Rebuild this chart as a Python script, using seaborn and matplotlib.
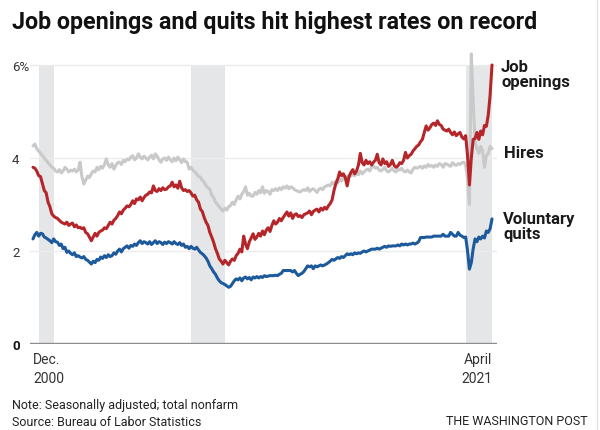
import numpy as np
import pandas as pd
import matplotlib
matplotlib.use("Agg")
import matplotlib.pyplot as plt
from matplotlib.lines import Line2D
import seaborn as sns

# ---------------- data (monthly, Dec 2000 - Apr 2021, percent) ----------------
start_month = "2000-12"

job_openings = [
    3.80,
    3.78, 3.72, 3.62, 3.60, 3.45, 3.30, 3.25, 3.05, 2.95, 2.80, 2.75, 2.72,  # 2001
    2.70, 2.66, 2.62, 2.60, 2.58, 2.62, 2.55, 2.58, 2.60, 2.52, 2.56, 2.50,  # 2002
    2.51, 2.48, 2.50, 2.40, 2.37, 2.30, 2.22, 2.30, 2.38, 2.32, 2.40, 2.43,  # 2003
    2.45, 2.50, 2.48, 2.55, 2.62, 2.58, 2.66, 2.70, 2.76, 2.84, 2.80, 2.88,  # 2004
    2.92, 2.97, 2.95, 3.00, 3.08, 3.02, 3.12, 3.10, 3.16, 3.08, 3.15, 3.20,  # 2005
    3.22, 3.27, 3.25, 3.40, 3.30, 3.28, 3.34, 3.30, 3.36, 3.32, 3.33, 3.38,  # 2006
    3.40, 3.48, 3.38, 3.42, 3.35, 3.50, 3.36, 3.30, 3.32, 3.28, 3.30, 3.25,  # 2007
    3.18, 3.20, 3.10, 3.05, 2.90, 2.85, 2.72, 2.62, 2.55, 2.40, 2.30, 2.19,  # 2008
    2.05, 1.95, 1.83, 1.78, 1.72, 1.80, 1.75, 1.70, 1.78, 1.83, 1.80, 1.90,  # 2009
    1.95, 2.04, 1.98, 2.32, 2.15, 2.05, 2.20, 2.28, 2.37, 2.25, 2.30, 2.38,  # 2010
    2.32, 2.43, 2.35, 2.45, 2.50, 2.42, 2.55, 2.65, 2.58, 2.62, 2.70, 2.65,  # 2011
    2.72, 2.78, 2.84, 2.75, 2.82, 2.70, 2.78, 2.80, 2.74, 2.76, 2.72, 2.78,  # 2012
    2.80, 2.82, 2.86, 2.78, 2.85, 2.88, 2.90, 2.84, 2.92, 2.88, 2.94, 2.90,  # 2013
    2.97, 3.02, 3.10, 3.30, 3.45, 3.55, 3.70, 3.62, 3.66, 3.58, 3.40, 3.60,  # 2014
    3.69, 3.75, 3.66, 3.72, 3.85, 4.10, 3.90, 3.85, 3.95, 3.88, 3.92, 3.85,  # 2015
    3.91, 3.95, 4.08, 3.90, 3.85, 3.98, 3.88, 3.92, 3.82, 3.86, 3.95, 3.84,  # 2016
    3.80, 3.83, 3.90, 3.88, 3.95, 4.12, 4.00, 4.05, 4.08, 4.15, 4.20, 4.25,  # 2017
    4.28, 4.35, 4.40, 4.55, 4.69, 4.60, 4.65, 4.72, 4.75, 4.70, 4.80, 4.72,  # 2018
    4.70, 4.62, 4.60, 4.58, 4.62, 4.55, 4.50, 4.56, 4.48, 4.52, 4.55, 4.45,  # 2019
    4.41, 4.48, 4.05, 3.42, 4.00, 4.40, 4.42, 4.55, 4.40, 4.58, 4.50, 4.70,  # 2020
    4.68, 4.92, 5.35, 6.00,                                                  # 2021
]

hires = [
    4.26,
    4.30, 4.20, 4.15, 4.10, 4.05, 4.00, 3.95, 3.90, 3.85, 3.80, 3.78, 3.72,  # 2001
    3.70, 3.75, 3.68, 3.72, 3.80, 3.76, 3.70, 3.74, 3.72, 3.76, 3.70, 3.74,  # 2002
    3.91, 3.60, 3.44, 3.52, 3.61, 3.58, 3.66, 3.72, 3.70, 3.80, 3.75, 3.82,  # 2003
    3.78, 3.86, 3.98, 3.85, 3.80, 3.88, 3.76, 3.84, 3.90, 3.91, 3.86, 3.95,  # 2004
    3.92, 3.98, 3.96, 4.02, 4.05, 3.96, 4.00, 4.09, 4.02, 3.98, 4.04, 4.00,  # 2005
    3.96, 4.02, 4.06, 3.98, 4.09, 4.04, 3.96, 3.91, 3.98, 4.00, 3.95, 4.02,  # 2006
    3.96, 3.92, 4.00, 3.94, 4.02, 3.96, 3.90, 3.98, 3.92, 3.91, 3.76, 3.80,  # 2007
    3.74, 3.70, 3.66, 3.60, 3.59, 3.52, 3.48, 3.40, 3.36, 3.33, 3.20, 3.15,  # 2008
    3.05, 3.00, 2.95, 2.90, 2.86, 2.92, 2.88, 2.95, 2.98, 3.05, 3.00, 3.10,  # 2009
    3.18, 3.12, 3.22, 3.28, 3.38, 3.20, 3.24, 3.18, 3.18, 3.26, 3.22, 3.30,  # 2010
    3.25, 3.38, 3.24, 3.30, 3.28, 3.22, 3.32, 3.30, 3.34, 3.30, 3.36, 3.32,  # 2011
    3.38, 3.35, 3.40, 3.34, 3.38, 3.36, 3.32, 3.30, 3.28, 3.27, 3.30, 3.32,  # 2012
    3.30, 3.36, 3.28, 3.32, 3.34, 3.30, 3.26, 3.33, 3.35, 3.32, 3.38, 3.40,  # 2013
    3.42, 3.40, 3.48, 3.44, 3.50, 3.46, 3.55, 3.50, 3.58, 3.56, 3.60, 3.62,  # 2014
    3.61, 3.65, 3.62, 3.68, 3.64, 3.72, 3.66, 3.70, 3.74, 3.76, 3.72, 3.80,  # 2015
    3.83, 3.78, 3.80, 3.74, 3.72, 3.76, 3.80, 3.72, 3.70, 3.74, 3.78, 3.72,  # 2016
    3.70, 3.76, 3.74, 3.78, 3.72, 3.70, 3.74, 3.70, 3.68, 3.76, 3.80, 3.78,  # 2017
    3.80, 3.82, 3.78, 3.83, 3.80, 3.86, 3.82, 3.84, 3.80, 3.85, 3.82, 3.88,  # 2018
    3.86, 3.80, 3.88, 3.87, 3.84, 3.82, 3.90, 3.86, 3.84, 3.88, 3.86, 3.90,  # 2019
    3.91, 3.85, 3.55, 3.00, 6.24, 5.20, 4.35, 4.20, 4.10, 4.25, 4.15, 3.80,  # 2020
    4.05, 4.10, 4.25, 4.20,                                                  # 2021
]

voluntary_quits = [
    2.26,
    2.35, 2.40, 2.32, 2.38, 2.37, 2.30, 2.28, 2.25, 2.22, 2.18, 2.26, 2.20,  # 2001
    2.19, 2.12, 2.15, 2.05, 2.08, 1.97, 2.00, 1.95, 1.92, 1.96, 1.88, 1.90,  # 2002
    1.87, 1.85, 1.88, 1.82, 1.80, 1.76, 1.72, 1.78, 1.75, 1.82, 1.80, 1.87,  # 2003
    1.84, 1.90, 1.86, 1.92, 1.88, 1.90, 1.96, 1.93, 2.00, 2.04, 1.98, 2.05,  # 2004
    2.08, 2.11, 2.06, 2.12, 2.10, 2.15, 2.12, 2.18, 2.22, 2.16, 2.20, 2.18,  # 2005
    2.15, 2.20, 2.14, 2.18, 2.22, 2.16, 2.20, 2.18, 2.14, 2.19, 2.16, 2.20,  # 2006
    2.18, 2.15, 2.20, 2.16, 2.14, 2.18, 2.12, 2.15, 2.08, 2.10, 2.05, 2.10,  # 2007
    2.06, 2.04, 2.08, 2.02, 1.97, 1.94, 1.90, 1.85, 1.78, 1.68, 1.62, 1.55,  # 2008
    1.50, 1.42, 1.36, 1.32, 1.30, 1.28, 1.25, 1.22, 1.24, 1.30, 1.36, 1.40,  # 2009
    1.38, 1.42, 1.36, 1.42, 1.44, 1.40, 1.43, 1.38, 1.44, 1.42, 1.45, 1.42,  # 2010
    1.45, 1.43, 1.47, 1.45, 1.46, 1.47, 1.47, 1.47, 1.48, 1.47, 1.50, 1.52,  # 2011
    1.58, 1.58, 1.58, 1.58, 1.58, 1.55, 1.58, 1.52, 1.47, 1.50, 1.52, 1.56,  # 2012
    1.62, 1.68, 1.66, 1.68, 1.62, 1.68, 1.66, 1.68, 1.70, 1.68, 1.70, 1.72,  # 2013
    1.75, 1.78, 1.82, 1.80, 1.83, 1.86, 1.84, 1.88, 1.86, 1.90, 1.94, 1.92,  # 2014
    1.94, 1.92, 1.96, 1.94, 1.96, 1.95, 1.98, 2.00, 1.98, 2.00, 2.02, 2.04,  # 2015
    2.04, 2.04, 2.06, 2.04, 2.06, 2.08, 2.10, 2.08, 2.11, 2.10, 2.11, 2.11,  # 2016
    2.11, 2.13, 2.11, 2.15, 2.13, 2.15, 2.13, 2.15, 2.15, 2.17, 2.15, 2.17,  # 2017
    2.20, 2.29, 2.29, 2.29, 2.30, 2.30, 2.30, 2.30, 2.32, 2.32, 2.32, 2.32,  # 2018
    2.32, 2.36, 2.32, 2.32, 2.32, 2.40, 2.36, 2.32, 2.32, 2.40, 2.34, 2.32,  # 2019
    2.29, 2.30, 2.00, 1.61, 1.75, 2.05, 2.26, 2.20, 2.30, 2.26, 2.32, 2.28,  # 2020
    2.43, 2.40, 2.48, 2.69,                                                  # 2021
]

series_names = ["Hires", "Voluntary quits", "Job openings"]
series_labels = {"Job openings": "Job\nopenings", "Hires": "Hires",
                 "Voluntary quits": "Voluntary\nquits"}
recessions = [("2001-03", "2001-11"), ("2007-12", "2009-06"), ("2020-02", "2021-04")]
x_tick_labels = ["Dec.\n2000", "April\n2021"]
y_ticks = [0, 2, 4, 6]
y_tick_labels = ["0", "2", "4", "6%"]
title_text = "Job openings and quits hit highest rates on record"
note_text = "Note: Seasonally adjusted; total nonfarm\nSource: Bureau of Labor Statistics"
credit_text = "THE WASHINGTON POST"

# ---------------- build table ----------------
n = len(job_openings)
start = pd.Period(start_month, freq="M")
month_idx = np.arange(n)
df = pd.DataFrame({"m": month_idx, "Job openings": job_openings,
                   "Hires": hires, "Voluntary quits": voluntary_quits})
long = df.melt(id_vars="m", var_name="series", value_name="rate")

def midx(s):
    return (pd.Period(s, freq="M") - start).n

# ---------------- style ----------------
sns.set_theme(style="white")
plt.rcParams["font.family"] = ["Roboto", "DejaVu Sans"]

W, H = 600, 431
fig = plt.figure(figsize=(W / 100, H / 100), dpi=100)
ax_left, ax_right, ax_top, ax_bottom = 30, 497, 50, 345
ax = fig.add_axes([ax_left / W, 1 - ax_bottom / H,
                   (ax_right - ax_left) / W, (ax_bottom - ax_top) / H])

ymax = 6.0 * (ax_bottom - ax_top) / (ax_bottom - 66)
ax.set_ylim(0, ymax)
px_per_m = (492 - 33) / (n - 1)
ax.set_xlim((ax_left - 33) / px_per_m, (ax_right - 33) / px_per_m)

# recession shading
for a, b in recessions:
    ax.fill_betweenx([0, 6], midx(a), midx(b), color="#e5e6e8", lw=0, zorder=0)

# gridlines
for yv in y_ticks[1:]:
    ax.axhline(yv, color="#ececec", lw=1.0, zorder=0.5)
ax.axhline(0, color="#8c8c8c", lw=1.7, zorder=3)

palette = {"Job openings": "#b5262b", "Hires": "#c9c9c9", "Voluntary quits": "#1d5a9c"}
sns.lineplot(data=long, x="m", y="rate", hue="series", hue_order=series_names,
             palette=palette, linewidth=2.2, legend=False, ax=ax, zorder=2)

for s in ax.spines.values():
    s.set_visible(False)
ax.set_xlabel("")
ax.set_ylabel("")

# y ticks
ax.set_yticks(y_ticks)
ax.set_yticklabels(y_tick_labels)
ax.tick_params(axis="y", length=0, pad=18 * 0.72, labelsize=9.5, labelcolor="#333333")
for lab in ax.get_yticklabels():
    lab.set_horizontalalignment("left")
ax.get_yticklabels()[0].set_fontweight("bold")
ax.get_yticklabels()[0].set_color("#111111")

# x ticks
ax.set_xticks([0, n - 1])
ax.set_xticklabels(x_tick_labels)
ax.tick_params(axis="x", length=0, pad=6, labelsize=10, labelcolor="#333333")
xl = ax.get_xticklabels()
xl[0].set_horizontalalignment("left")
xl[0].set_multialignment("left")
xl[1].set_horizontalalignment("right")
xl[1].set_multialignment("right")
for lab in xl:
    lab.set_linespacing(1.45)

# series labels on the right
label_pos = {"Job openings": (501, 75), "Hires": (504, 154), "Voluntary quits": (503, 227)}
for key, (px, py) in label_pos.items():
    fig.text(px / W, 1 - py / H, series_labels[key], ha="left", va="center",
             fontsize=12, fontweight="bold", color="#1a1a1a", linespacing=0.95)

# title
title = fig.text(12 / W, 1 - 22 / H, title_text, ha="left", va="center",
                 fontsize=15, fontweight="bold", color="#111111")
fig.canvas.draw()
r = fig.canvas.get_renderer()
bb = title.get_window_extent(r)
title.set_fontsize(15 * 529 / bb.width)

# footer
fig.text(12 / W, 1 - 414 / H, note_text, ha="left", va="center", fontsize=9,
         color="#222222", linespacing=1.35)
fig.text(588 / W, 1 - 422 / H, credit_text, ha="right", va="center", fontsize=9,
         color="#222222")

fig.add_artist(Line2D([597 / W, 597 / W], [0, 1], color="#e2e2e2", lw=1,
                      transform=fig.transFigure))

fig.savefig("out.png", dpi=100)
